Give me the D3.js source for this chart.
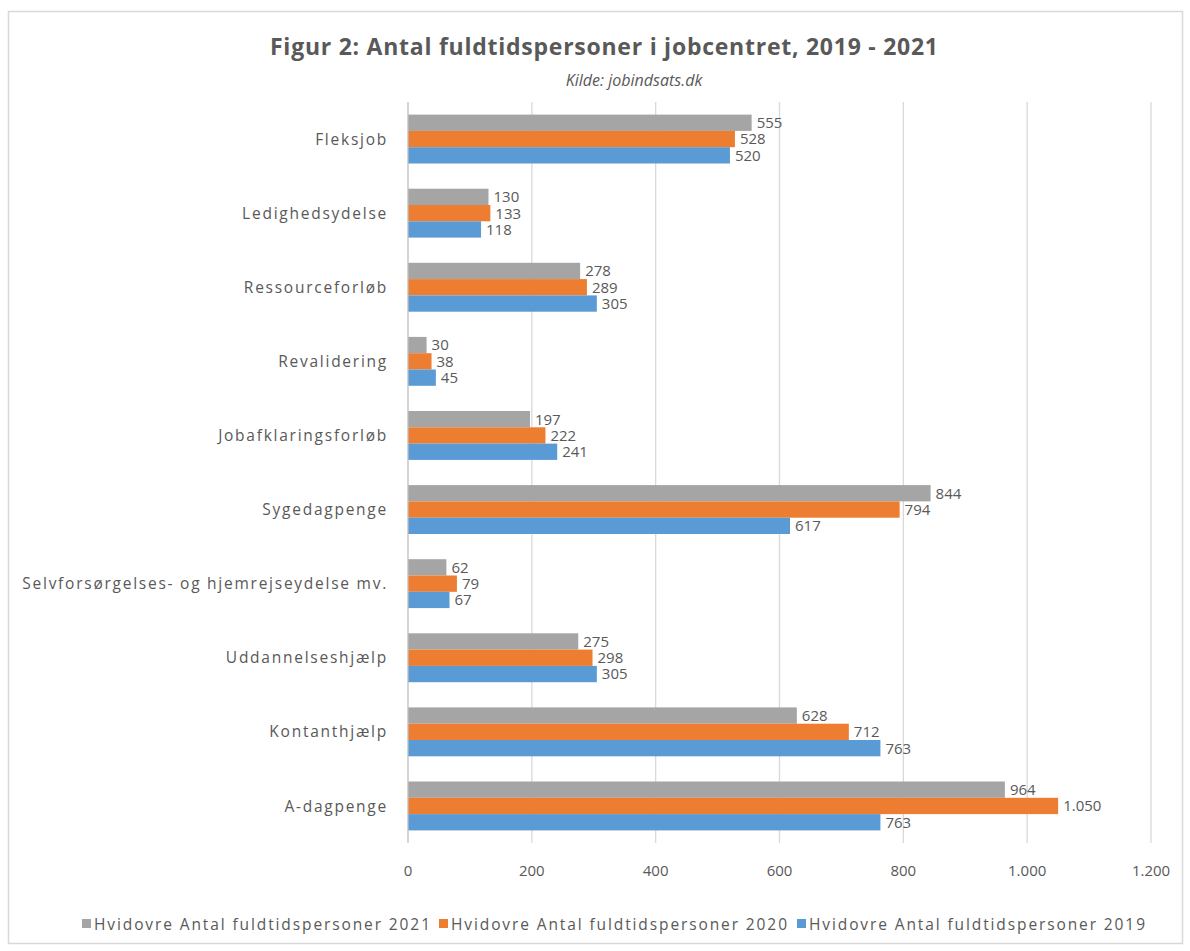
<!DOCTYPE html>
<html>
<head>
<meta charset="utf-8">
<script src="https://cdn.jsdelivr.net/npm/d3@7"></script>
<style>
  body { margin: 0; background: #fff; }
  text { font-family: "Open Sans", "Noto Sans", sans-serif; fill: #595959; }
</style>
</head>
<body>
<div id="chart"></div>
<script>
// ============================
// Data
// ============================
const categories = ["Fleksjob", "Ledighedsydelse", "Ressourceforløb", "Revalidering",
  "Jobafklaringsforløb", "Sygedagpenge", "Selvforsørgelses- og hjemrejseydelse mv.",
  "Uddannelseshjælp", "Kontanthjælp", "A-dagpenge"];
const series = ["Hvidovre Antal fuldtidspersoner 2021", "Hvidovre Antal fuldtidspersoner 2020", "Hvidovre Antal fuldtidspersoner 2019"];
const values2021 = [555, 130, 278, 30, 197, 844, 62, 275, 628, 964];
const values2020 = [528, 133, 289, 38, 222, 794, 79, 298, 712, 1050];
const values2019 = [520, 118, 305, 45, 241, 617, 67, 305, 763, 763];
const xTicks = [0, 200, 400, 600, 800, 1000, 1200];
const colors = ["#A5A5A5", "#ED7D31", "#5B9BD5"];

const width = 1190, height = 951;
const margin = {top: 102, right: 38, bottom: 108, left: 408};

const locale = d3.formatLocale({decimal: ",", thousands: ".", grouping: [3], currency: ["", ""]});
const fmt = locale.format(",d");

const svg = d3.select("#chart").append("svg")
  .attr("width", width).attr("height", height);

// outer frame
svg.append("rect")
  .attr("x", 8.5).attr("y", 11.5).attr("width", 1174).attr("height", 932)
  .attr("fill", "#fff").attr("stroke", "#D9D9D9").attr("stroke-width", 1.5);

const xscale = d3.scaleLinear().domain([0, 1200]).range([margin.left, 1151]);
const yscale = d3.scaleBand().domain(categories).range([margin.top, height - margin.bottom]).paddingInner(0.34).paddingOuter(0.17);
const sub = d3.scaleBand().domain([0, 1, 2]).range([0, yscale.bandwidth()]);

// grid
svg.append("g")
  .selectAll("line")
  .data(xTicks.slice(1))
  .join("line")
  .attr("x1", d => xscale(d)).attr("x2", d => xscale(d))
  .attr("y1", margin.top).attr("y2", height - margin.bottom)
  .attr("stroke", "#D9D9D9").attr("stroke-width", 1.3);

// x tick labels
svg.append("g")
  .selectAll("text")
  .data(xTicks)
  .join("text")
  .attr("x", d => xscale(d)).attr("y", 876)
  .attr("text-anchor", "middle")
  .attr("font-size", 15)
  .text(d => fmt(d));

const rows = categories.map((c, i) => ({cat: c, vals: [values2021[i], values2020[i], values2019[i]]}));

const groups = svg.append("g")
  .selectAll("g")
  .data(rows)
  .join("g")
  .attr("transform", d => `translate(0,${yscale(d.cat)})`);

groups.selectAll("rect")
  .data(d => d.vals)
  .join("rect")
  .attr("x", xscale(0))
  .attr("y", (d, i) => sub(i))
  .attr("width", d => xscale(d) - xscale(0))
  .attr("height", sub.bandwidth())
  .attr("fill", (d, i) => colors[i]);

groups.selectAll("text.val")
  .data(d => d.vals)
  .join("text")
  .attr("class", "val")
  .attr("x", d => xscale(d) + 5)
  .attr("y", (d, i) => sub(i) + sub.bandwidth() / 2)
  .attr("dy", "0.36em")
  .attr("font-size", 15)
  .text(d => fmt(d));

// axis line at zero
svg.append("line")
  .attr("x1", xscale(0)).attr("x2", xscale(0))
  .attr("y1", margin.top).attr("y2", height - margin.bottom)
  .attr("stroke", "#BFBFBF").attr("stroke-width", 1.3);

// category labels
svg.append("g")
  .selectAll("text")
  .data(categories)
  .join("text")
  .attr("x", 388)
  .attr("y", d => yscale(d) + yscale.bandwidth() / 2)
  .attr("dy", "0.36em")
  .attr("text-anchor", "end")
  .attr("font-size", 15.5)
  .attr("letter-spacing", 1.75)
  .text(d => d);

// title
svg.append("text")
  .attr("x", 604).attr("y", 55)
  .attr("text-anchor", "middle")
  .attr("font-size", 23).attr("font-weight", "bold")
  .attr("textLength", 668).attr("lengthAdjust", "spacing")
  .text("Figur 2:  Antal fuldtidspersoner i jobcentret, 2019 - 2021");

svg.append("text")
  .attr("x", 634).attr("y", 86)
  .attr("text-anchor", "middle")
  .attr("font-size", 16).attr("font-style", "italic")
  .text("Kilde: jobindsats.dk");

// legend
const legendX = [82, 439, 797];
const legend = svg.append("g")
  .selectAll("g")
  .data(series)
  .join("g")
  .attr("transform", (d, i) => `translate(${legendX[i]},924)`);

legend.append("rect")
  .attr("x", 0).attr("y", -5).attr("width", 9).attr("height", 9)
  .attr("fill", (d, i) => colors[i]);

legend.append("text")
  .attr("x", 12).attr("y", 0)
  .attr("dy", "0.36em")
  .attr("font-size", 15.5)
  .attr("textLength", 336).attr("lengthAdjust", "spacing")
  .text(d => d);
</script>
</body>
</html>
